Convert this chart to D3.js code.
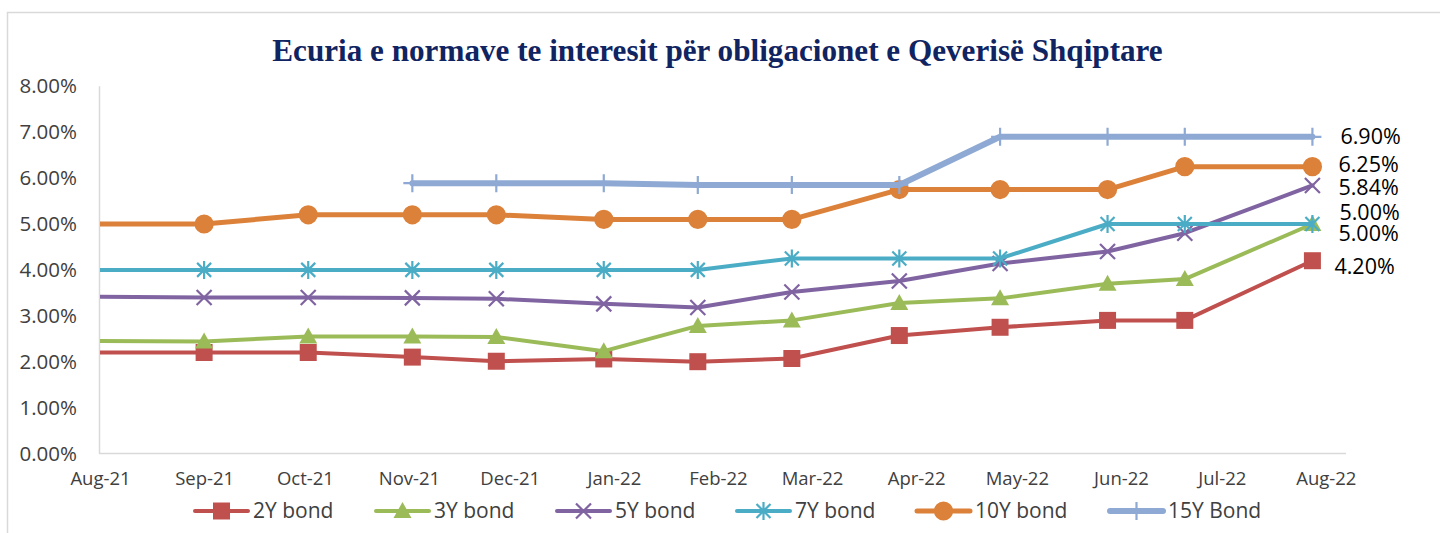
<!DOCTYPE html>
<html>
<head>
<meta charset="utf-8">
<script src="https://cdn.jsdelivr.net/npm/d3@7"></script>
<style>
  html, body { margin: 0; padding: 0; background: #fff; }
  svg { display: block; }
</style>
</head>
<body>
<svg id="chart" width="1440" height="533"></svg>
<script>
// ---------------- DATA ----------------
const title = "Ecuria e normave te interesit për obligacionet e Qeverisë Shqiptare";
const dates = ["2021-07-28","2021-09-01","2021-10-02","2021-11-02","2021-11-27","2021-12-29",
               "2022-01-26","2022-02-23","2022-03-27","2022-04-26","2022-05-28","2022-06-20","2022-07-28"];
const seriesNames = ["2Y bond","3Y bond","5Y bond","7Y bond","10Y bond","15Y Bond"];
const bond2Y  = [2.20,2.20,2.20,2.10,2.01,2.06,2.00,2.07,2.57,2.75,2.90,2.90,4.20];
const bond3Y  = [2.45,2.44,2.55,2.55,2.54,2.23,2.78,2.90,3.28,3.38,3.70,3.80,5.00];
const bond5Y  = [3.42,3.40,3.40,3.39,3.37,3.26,3.18,3.52,3.76,4.14,4.40,4.80,5.84];
const bond7Y  = [4.00,4.00,4.00,4.00,4.00,4.00,4.00,4.25,4.25,4.25,5.00,5.00,5.00];
const bond10Y = [5.00,5.00,5.20,5.20,5.20,5.10,5.10,5.10,5.75,5.75,5.75,6.25,6.25];
const bond15Y = [null,null,null,5.89,5.89,5.89,5.85,5.85,5.85,6.90,6.90,6.90,6.90];
const xTickLabels = ["Aug-21","Sep-21","Oct-21","Nov-21","Dec-21","Jan-22","Feb-22",
                     "Mar-22","Apr-22","May-22","Jun-22","Jul-22","Aug-22"];
const yTickValues = [0,1,2,3,4,5,6,7,8];
const xDomain = ["2021-08-01","2022-08-07"];
const yDomain = [0,8];

// ---------------- STYLE ----------------
const colors  = ["#C0504D","#9BBB59","#8064A2","#4BACC6","#DC8139","#8EA9D3"];
const widths  = [4,4,4,4,5,6];
const markers = ["square","triangle","x","star","circle","plus"];
const labelDy = [5.5,9.5,2.5,-12,-2.5,-0.5];
const labelDx = [22,26,26,27,26,28];

const parse = d3.timeParse("%Y-%m-%d");
const allSeries = [bond2Y,bond3Y,bond5Y,bond7Y,bond10Y,bond15Y].map((vals,i)=>({
  name: seriesNames[i], color: colors[i], width: widths[i], marker: markers[i],
  points: vals.map((v,j)=>({date: parse(dates[j]), value: v})).filter(p=>p.value!=null)
}));

const svg = d3.select("#chart");
const plot = {left:100, right:1346, top:86.3, bottom:453.5};

const x = d3.scaleTime().domain(xDomain.map(parse)).range([plot.left, plot.right]);
const y = d3.scaleLinear().domain(yDomain).range([plot.bottom, plot.top]);

// outer frame
svg.append("rect").attr("x",7.5).attr("y",12.5).attr("width",1500).attr("height",600)
  .attr("fill","none").attr("stroke","#D9D9D9").attr("stroke-width",1.5);

// title
const tt = svg.append("text").text(title)
  .attr("x",(272+1163)/2).attr("y",61).attr("text-anchor","middle")
  .attr("font-family","'Liberation Serif', serif").attr("font-weight","bold")
  .attr("font-size",28).attr("fill","#102462");
const tw = tt.node().getComputedTextLength();
tt.attr("font-size", 28*891/tw);

// axes lines
svg.append("line").attr("x1",plot.left-0.5).attr("x2",plot.left-0.5)
  .attr("y1",plot.top).attr("y2",plot.bottom).attr("stroke","#D9D9D9").attr("stroke-width",1.5);
svg.append("line").attr("x1",plot.left-1).attr("x2",plot.right)
  .attr("y1",plot.bottom).attr("y2",plot.bottom).attr("stroke","#D9D9D9").attr("stroke-width",1.5);

// y axis
const yAxis = d3.axisLeft(y).tickValues(yTickValues).tickSize(0).tickPadding(0)
  .tickFormat(d=>d3.format(".2f")(d)+"%");
const gy = svg.append("g").attr("transform",`translate(${plot.left-23},0)`).call(yAxis);
gy.select(".domain").remove();
gy.selectAll("text").attr("font-family","'Open Sans', sans-serif").attr("font-size",20.5)
  .attr("fill","#404040");

// x axis
const monthTicks = d3.timeMonth.range(parse("2021-08-01"), parse("2022-08-02"));
const xAxis = d3.axisBottom(x).tickValues(monthTicks).tickSize(0).tickPadding(0)
  .tickFormat((d,i)=>xTickLabels[i]);
const gx = svg.append("g").attr("transform",`translate(0,${plot.bottom+18})`).call(xAxis);
gx.select(".domain").remove();
gx.selectAll("text").attr("font-family","'Open Sans', sans-serif").attr("font-size",18.5)
  .attr("fill","#404040");

// clip
svg.append("clipPath").attr("id","clip").append("rect")
  .attr("x",plot.left).attr("y",0).attr("width",plot.right-plot.left+40).attr("height",533);

function markerPath(type){
  switch(type){
    case "square": return "M-8.5,-8.5H8.5V8.5H-8.5Z";
    case "triangle": return "M0,-9L9,7H-9Z";
    case "circle": return d3.symbol(d3.symbolCircle, 290)();
    case "x": return "M-7.5,-7.5L7.5,7.5M-7.5,7.5L7.5,-7.5";
    case "star": return "M-7,-7L7,7M-7,7L7,-7M0,-9V9";
    case "plus": return "M0,-9V9M-9,0H9";
  }
}
function drawMarker(g, type, color, cx, cy){
  const filled = (type==="square"||type==="triangle"||type==="circle");
  g.append("path").attr("d",markerPath(type))
    .attr("transform",`translate(${cx},${cy})`)
    .attr("fill", filled?color:"none")
    .attr("stroke", color).attr("stroke-width", filled?0:2.2);
}

const line = d3.line().x(d=>x(d.date)).y(d=>y(d.value));
const gSeries = svg.append("g").attr("clip-path","url(#clip)");
allSeries.forEach((s,i)=>{
  const g = gSeries.append("g");
  g.append("path").datum(s.points).attr("d",line).attr("fill","none")
    .attr("stroke",s.color).attr("stroke-width",s.width)
    .attr("stroke-linejoin","round").attr("stroke-linecap","round");
  s.points.forEach(p=>{
    if (p.date >= x.domain()[0]) drawMarker(g, s.marker, s.color, x(p.date), y(p.value));
  });
});

// end data labels
allSeries.forEach((s,i)=>{
  const last = s.points[s.points.length-1];
  svg.append("text").text(d3.format(".2f")(last.value)+"%")
    .attr("x", x(last.date)+labelDx[i]).attr("y", y(last.value)+labelDy[i])
    .attr("dy","0.35em")
    .attr("font-family","'Open Sans', sans-serif").attr("font-size",21.5).attr("fill","#000");
});

// legend
const legendX = [195,376,557,737,917,1110];
const legendY = 511;
allSeries.forEach((s,i)=>{
  const g = svg.append("g");
  const x0 = legendX[i];
  g.append("line").attr("x1",x0).attr("x2",x0+53).attr("y1",legendY).attr("y2",legendY)
    .attr("stroke",s.color).attr("stroke-width",s.width).attr("stroke-linecap","round");
  drawMarker(g, s.marker, s.color, x0+26.5, legendY);
  g.append("text").text(s.name).attr("x",x0+58).attr("y",legendY).attr("dy","0.35em")
    .attr("font-family","'Open Sans', sans-serif").attr("font-size",21).attr("fill","#404040");
});
</script>
</body>
</html>
